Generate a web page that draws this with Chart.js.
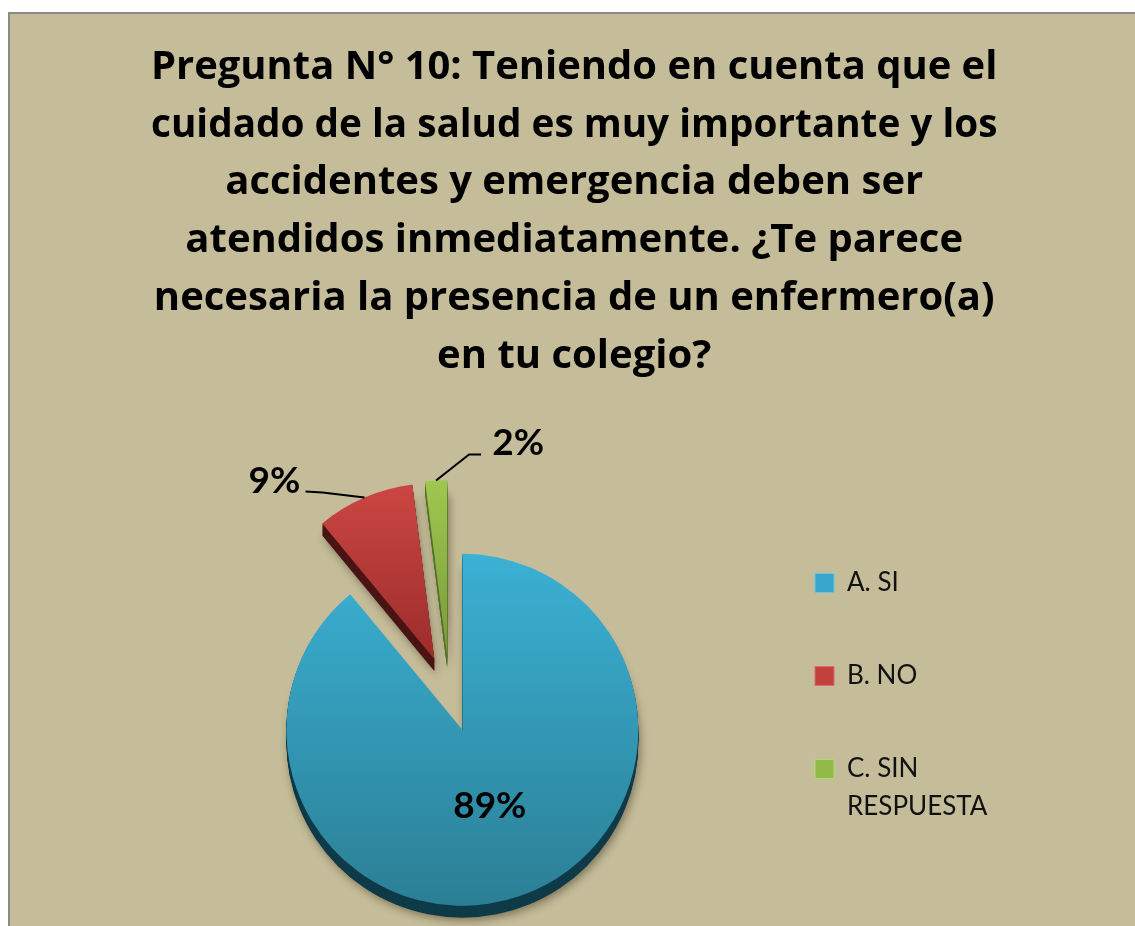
<!DOCTYPE html>
<html>
<head>
<meta charset="utf-8">
<script src="https://cdn.jsdelivr.net/npm/chart.js@4.4.1/dist/chart.umd.min.js"></script>
<style>
html,body{margin:0;padding:0;background:#fff;overflow:hidden}
canvas{display:block}
</style>
</head>
<body>
<canvas id="c" width="1135" height="926" style="width:1135px;height:926px"></canvas>
<script>
// ---- data ----
const categories = ['A. SI', 'B. NO', 'C. SIN RESPUESTA'];
const legendLines = [['A. SI'], ['B. NO'], ['C. SIN', 'RESPUESTA']];
const values = [89, 9, 2];
const valueLabels = ['89%', '9%', '2%'];
const titleLines = [
  'Pregunta N° 10: Teniendo en cuenta que el',
  'cuidado de la salud es muy importante y los',
  'accidentes y emergencia deben ser',
  'atendidos inmediatamente. ¿Te parece',
  'necesaria la presencia de un enfermero(a)',
  'en tu colegio?'
];

// ---- styling ----
const W = 1135, H = 926;
const R = 176;          // pie radius
const EXPLODE = 38;     // explosion distance
const DEPTH = 12;       // 3D thickness
const topColors = ['#3bb1d4', '#cc4643', '#a0c74f'];
const bottomColors = ['#2b7f95', '#9b2d2b', '#7a9a39'];
const sideColors = ['#0f3b48', '#4a1414', '#52722a'];
const legendColors = ['#36a7ca', '#c2403d', '#92ba47'];
const legendBorders = ['#6cc6e2', '#d9706d', '#b4d67a'];
const BG = '#c5bd99';

const legendFontSize = 26;
const mctx = document.createElement('canvas').getContext('2d');
mctx.font = legendFontSize + 'px Lato';
const maxTextW = Math.max(...legendLines.flat().map(t => mctx.measureText(t).width));
const BOXW = 19;
const LPAD = 67;
const colW = BOXW + legendFontSize / 2 + maxTextW;
const padL = 151;
const legendLeftTarget = 748;
const padR = W - legendLeftTarget - (LPAD + colW + 10);

const total = values.reduce((a, b) => a + b, 0);
function sliceRange(i, cy) {
  const acc = values.slice(0, i).reduce((a, b) => a + b, 0);
  const a0 = -Math.PI / 2 + acc / total * 2 * Math.PI;
  const a1 = a0 + values[i] / total * 2 * Math.PI;
  const mid = (a0 + a1) / 2;
  const oy = cy + Math.sin(mid) * EXPLODE;
  const ys = [oy];
  for (let k = 0; k <= 60; k++) ys.push(oy + Math.sin(a0 + (a1 - a0) * k / 60) * R);
  return [Math.min(...ys), Math.max(...ys)];
}

const labelLayout = [
  {inside: true, dist: 0.46},
  {elbow: [-42, -5], end: [-59, -6], text: [-90, -17]},
  {elbow: [33, -26], end: [45, -26], text: [82, -37]}
];

function sectorPath(ctx, x, y, r, a0, a1) {
  ctx.beginPath();
  ctx.moveTo(x, y);
  ctx.arc(x, y, r, a0, a1);
  ctx.closePath();
}

const framePlugin = {
  id: 'frame',
  beforeDraw(chart) {
    const ctx = chart.ctx;
    ctx.save();
    ctx.fillStyle = '#ffffff';
    ctx.fillRect(0, 0, W, H);
    ctx.fillStyle = BG;
    ctx.fillRect(8, 12, W - 8, H - 12);
    ctx.strokeStyle = '#8a8a8a';
    ctx.lineWidth = 2;
    ctx.beginPath();
    ctx.moveTo(9, H);
    ctx.lineTo(9, 13);
    ctx.lineTo(W, 13);
    ctx.stroke();
    ctx.restore();
  }
};

const pie3dPlugin = {
  id: 'pie3d',
  beforeDatasetsDraw(chart) {
    const ctx = chart.ctx;
    const meta = chart.getDatasetMeta(0);
    meta.data.forEach(el => {
      const mid = (el.startAngle + el.endAngle) / 2;
      el.$dx = Math.cos(mid) * EXPLODE;
      el.$dy = Math.sin(mid) * EXPLODE;
      el.x += el.$dx;
      el.y += el.$dy;
    });
    ctx.save();
    meta.data.forEach((el, i) => {
      ctx.save();
      ctx.shadowColor = 'rgba(40,30,10,0.45)';
      ctx.shadowBlur = 9;
      ctx.shadowOffsetX = 2;
      ctx.shadowOffsetY = 3;
      ctx.fillStyle = sideColors[i];
      sectorPath(ctx, el.x, el.y + DEPTH, el.outerRadius, el.startAngle, el.endAngle);
      ctx.fill();
      ctx.restore();
      ctx.fillStyle = sideColors[i];
      for (let d = DEPTH - 1; d >= 1; d--) {
        sectorPath(ctx, el.x, el.y + d, el.outerRadius, el.startAngle, el.endAngle);
        ctx.fill();
      }
    });
    ctx.restore();
  },
  afterDatasetsDraw(chart) {
    const ctx = chart.ctx;
    const meta = chart.getDatasetMeta(0);
    ctx.save();
    ctx.font = 'bold 37px Lato';
    ctx.fillStyle = '#000';
    ctx.strokeStyle = '#000';
    ctx.lineWidth = 2;
    ctx.textAlign = 'center';
    ctx.textBaseline = 'middle';
    meta.data.forEach((el, i) => {
      const mid = (el.startAngle + el.endAngle) / 2;
      const L = labelLayout[i];
      if (L.inside) {
        ctx.fillText(valueLabels[i], el.x + Math.cos(mid) * el.outerRadius * L.dist,
                     el.y + Math.sin(mid) * el.outerRadius * L.dist);
      } else {
        const px = el.x + Math.cos(mid) * el.outerRadius;
        const py = el.y + Math.sin(mid) * el.outerRadius;
        ctx.beginPath();
        ctx.moveTo(px, py);
        ctx.lineTo(px + L.elbow[0], py + L.elbow[1]);
        ctx.lineTo(px + L.end[0], py + L.end[1]);
        ctx.stroke();
        ctx.fillText(valueLabels[i], px + L.text[0], py + L.text[1]);
      }
    });
    ctx.restore();
    meta.data.forEach(el => {
      el.x -= el.$dx;
      el.y -= el.$dy;
    });
  }
};

new Chart(document.getElementById('c'), {
  type: 'pie',
  data: {
    labels: categories,
    datasets: [{
      data: values,
      borderWidth: 0,
      clip: false,
      backgroundColor: (c) => {
        const i = c.dataIndex;
        const a = c.chart.chartArea;
        if (!a || i === undefined) return topColors[i || 0];
        const cy = (a.top + a.bottom) / 2;
        const [y0, y1] = sliceRange(i, cy);
        const g = c.chart.ctx.createLinearGradient(0, y0, 0, y1);
        g.addColorStop(0, topColors[i]);
        g.addColorStop(1, bottomColors[i]);
        return g;
      }
    }]
  },
  options: {
    responsive: false,
    animation: false,
    events: [],
    radius: R,
    layout: {padding: {left: padL, right: padR, top: 0, bottom: 12}},
    plugins: {
      tooltip: {enabled: false},
      title: {
        display: true,
        text: titleLines,
        color: '#000',
        font: {family: 'Open Sans', size: 40, weight: 'bold', lineHeight: '57.8px'},
        padding: {top: 38.6, bottom: 88.6}
      },
      legend: {
        position: 'right',
        align: 'center',
        fullSize: false,
        title: {display: true, text: '', padding: 0, font: {size: 14, lineHeight: 1}},
        labels: {
          boxWidth: BOXW,
          boxHeight: BOXW,
          padding: LPAD,
          color: '#111',
          font: {family: 'Lato', size: legendFontSize, lineHeight: 38 / legendFontSize},
          generateLabels: () => legendLines.map((t, i) => ({
            text: t.length > 1 ? t : t[0],
            fillStyle: legendColors[i],
            strokeStyle: legendBorders[i],
            lineWidth: 1,
            hidden: false,
            index: i,
            fontColor: '#111'
          }))
        }
      }
    }
  },
  plugins: [framePlugin, pie3dPlugin]
});
</script>
</body>
</html>
